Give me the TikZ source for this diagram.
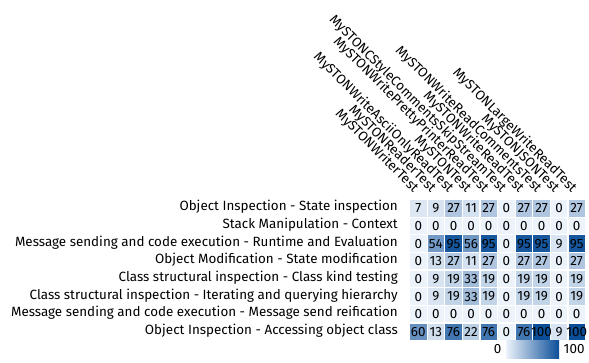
\documentclass[tikz,border=0pt]{standalone}
\usepackage{fontspec}
\setmainfont{Fira Sans}
\usetikzlibrary{positioning}
\definecolor{hmin}{RGB}{237,243,251}
\definecolor{hmax}{RGB}{11,78,152}

\begin{document}
\begin{tikzpicture}[x=1pt,y=-1pt,font=\fontsize{13.4}{15}\selectfont,
  cell/.style={minimum size=16.4pt,inner sep=0pt,fill=hmax!#1!hmin},
  rowlab/.style={anchor=mid east,inner sep=0pt},
  collab/.style={anchor=base east,rotate=-45,inner sep=0pt}]
\useasboundingbox (0,0) rectangle (589,362);
\foreach \lab [count=\r from 0] in {Object Inspection - State inspection,
    Stack Manipulation - Context,
    Message sending and code execution - Runtime and Evaluation,
    Object Modification - State modification,
    Class structural inspection - Class kind testing,
    Class structural inspection - Iterating and querying hierarchy,
    Message sending and code execution - Message send reification,
    Object Inspection - Accessing object class}
  \node[rowlab] (r\r) at (398,{208.3+17.65*\r}) {\lab};
\foreach \lab [count=\c from 0] in {MySTONWriterTest,MySTONReaderTest,
    MySTONWriteAsciiOnlyReadTest,MySTONTest,MySTONWritePrettyPrinterReadTest,
    MySTONCStyleCommentsSkipStreamTest,MySTONWriteReadTest,
    MySTONWriteReadCommentsTest,MySTONJSONTest,MySTONLargeWriteReadTest}
  \node[collab] (t\c) at ({413.3+17.6*\c},193) {\lab};
\foreach \vals [count=\r from 0] in {{7,9,27,11,27,0,27,27,0,27},
    {0,0,0,0,0,0,0,0,0,0},
    {0,54,95,56,95,0,95,95,9,95},
    {0,13,27,11,27,0,27,27,0,27},
    {0,9,19,33,19,0,19,19,0,19},
    {0,9,19,33,19,0,19,19,0,19},
    {0,0,0,0,0,0,0,0,0,0},
    {60,13,76,22,76,0,76,100,9,100}}
  \foreach \v [count=\c from 0] in \vals
    \node[cell=\v] (c\r-\c) at ({418.3+17.6*\c},{208.3+17.65*\r}) {\makebox[0pt]{\v}}; % text may overflow
\node[minimum width=53pt,minimum height=18.5pt,inner sep=0pt,
  left color=hmin,right color=hmax] (bar) at (532.5,349.3) {};
\node[left=1pt of bar] (lo) {0};
\node[right=1pt of bar] (hi) {100};
\end{tikzpicture}
\end{document}
